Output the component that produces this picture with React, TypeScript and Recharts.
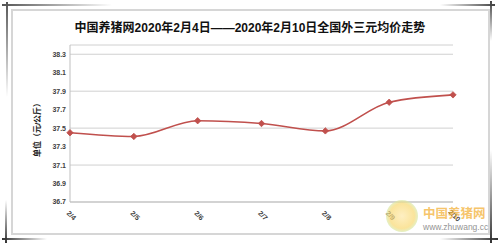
import React from 'react';
import { LineChart, Line, XAxis, YAxis, CartesianGrid } from 'recharts';

const dates = ['2/4', '2/5', '2/6', '2/7', '2/8', '2/9', '2/10'];
const prices = [37.45, 37.41, 37.58, 37.55, 37.47, 37.78, 37.86];
const yTicks = [36.7, 36.9, 37.1, 37.3, 37.5, 37.7, 37.9, 38.1, 38.3];
const title = '中国养猪网2020年2月4日——2020年2月10日全国外三元均价走势';
const yTitle = '单位（元/公斤）';
const logoName = '中国养猪网';
const logoUrl = 'www.zhuwang.cc';

const data = dates.map((d, i) => ({ date: d, price: prices[i] }));

const RED = '#c0504d';
const FONT = '"Liberation Sans", "Noto Sans CJK SC", sans-serif';

const XTick = (props: any) => {
  const { x, y, payload } = props;
  return (
    <g transform={`translate(${x + 1},${y + 6})`}>
      <text
        transform="rotate(45)"
        textAnchor="middle"
        dominantBaseline="middle"
        fontSize={7}
        fontWeight="bold"
        fill="#404040"
        fontFamily={FONT}
      >
        {payload.value}
      </text>
    </g>
  );
};

const Diamond = (props: any) => {
  const { cx, cy, index } = props;
  const s = 3.2;
  return (
    <path
      key={`d-${index}`}
      d={`M${cx},${cy - s}L${cx + s},${cy}L${cx},${cy + s}L${cx - s},${cy}Z`}
      fill={RED}
      stroke={RED}
      strokeWidth={0.8}
    />
  );
};

const abs = (s: React.CSSProperties): React.CSSProperties => ({ position: 'absolute', ...s });

export default function App() {
  return (
    <div style={{ position: 'fixed', left: 0, top: 0, width: 500, height: 243, background: '#fff', overflow: 'hidden' }}>
      {/* frame */}
      <div style={abs({ left: 11, top: 9, width: 475, height: 222, border: '2px solid #d6d6d6' })} />
      {/* crop marks */}
      <div style={abs({ left: 2, top: 4, width: 110, height: 2, background: 'linear-gradient(to right, #555, rgba(120,120,120,0))' })} />
      <div style={abs({ left: 6, top: 2, width: 2, height: 95, background: 'linear-gradient(to bottom, #555, rgba(120,120,120,0))' })} />
      <div style={abs({ left: 440, top: 4, width: 55, height: 2, background: 'linear-gradient(to left, #444, rgba(120,120,120,0))' })} />
      <div style={abs({ left: 490, top: 1, width: 2, height: 40, background: 'linear-gradient(to bottom, #444, rgba(120,120,120,0))' })} />
      <div style={abs({ left: 5, top: 200, width: 2, height: 43, background: 'linear-gradient(to top, #333, rgba(120,120,120,0))' })} />
      <div style={abs({ left: 2, top: 238, width: 45, height: 2, background: 'linear-gradient(to right, #333, rgba(120,120,120,0))' })} />
      <div style={abs({ left: 490, top: 150, width: 2, height: 93, background: 'linear-gradient(to top, #333, rgba(120,120,120,0))' })} />
      <div style={abs({ left: 440, top: 238, width: 58, height: 2, background: 'linear-gradient(to left, #333, rgba(120,120,120,0))' })} />

      <div style={abs({ left: 0, top: 0 })}>
        <LineChart width={500} height={243} data={data} margin={{ top: 45, right: 47, left: 0, bottom: 11 }}>
          <CartesianGrid vertical={false} stroke="#d0d0d0" strokeWidth={1} />
          <XAxis
            dataKey="date"
            height={30}
            tickLine={false}
            axisLine={{ stroke: '#bfbfbf' }}
            tick={<XTick />}
            interval={0}
            padding={{ left: 0, right: 0 }}
          />
          <YAxis
            width={70}
            domain={[36.7, 38.4]}
            ticks={yTicks}
            type="number"
            allowDataOverflow
            tickLine={false}
            tickSize={4}
            tickMargin={0}
            axisLine={{ stroke: '#bfbfbf' }}
            tick={{ fontSize: 7, fontWeight: 'bold', fill: '#404040', fontFamily: FONT }}
            tickFormatter={(v: number) => v.toFixed(1)}
          />
          <Line
            type="monotone"
            dataKey="price"
            stroke={RED}
            strokeWidth={1.6}
            dot={<Diamond />}
            activeDot={false}
            isAnimationActive={false}
          />
        </LineChart>
      </div>

      {/* title */}
      <div style={abs({ left: 0, top: 18, width: 500, textAlign: 'center', fontSize: 12, fontWeight: 'bold', fontFamily: FONT, color: '#111', whiteSpace: 'nowrap' })}>
        {title}
      </div>
      {/* y axis title */}
      <div
        style={abs({
          left: 36,
          top: 128,
          transform: 'translate(-50%,-50%) rotate(-90deg)',
          fontSize: 8,
          fontWeight: 'bold',
          fontFamily: FONT,
          color: '#222',
          whiteSpace: 'nowrap',
        })}
      >
        {yTitle}
      </div>

      {/* watermark logo */}
      <div style={abs({ left: 386, top: 200, width: 32, height: 32, borderRadius: '50%', background: 'radial-gradient(circle, #fde8a8 0%, #f8d870 55%, #d6ebb2 72%, #eef6e2 100%)', opacity: 0.7 })} />
      <div style={abs({ left: 423, top: 206, fontSize: 12.5, fontWeight: 'bold', fontFamily: '"Noto Sans CJK SC", sans-serif', color: '#f3b23a', opacity: 0.75, whiteSpace: 'nowrap', lineHeight: '14px' })}>
        {logoName}
      </div>
      <div style={abs({ left: 423, top: 222, fontSize: 8.5, fontFamily: FONT, color: '#8a8a8a', opacity: 0.9, whiteSpace: 'nowrap', lineHeight: '10px' })}>
        {logoUrl}
      </div>
    </div>
  );
}
